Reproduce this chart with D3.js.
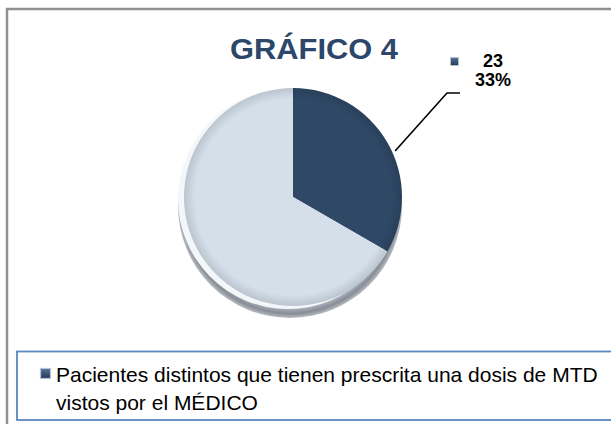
<!DOCTYPE html>
<html>
<head>
<meta charset="utf-8">
<script src="https://cdn.jsdelivr.net/npm/d3@7"></script>
<style>
  body { margin: 0; background: #fff; }
  text { font-family: Arial, "Liberation Sans", sans-serif; }
</style>
</head>
<body>
<script>
var categories = ["Pacientes distintos que tienen prescrita una dosis de MTD vistos por el MÉDICO", "Resto"],
    values = [23, 46],
    labels = ["23", "33%"],
    colors = ["#2f4866", "#d4dfea"];

var width = 611, height = 424,
    cx = 293, cy = 197, radius = 109;

var svg = d3.select("body").append("svg")
    .attr("width", width)
    .attr("height", height);

var defs = svg.append("defs");

// shadow under the disc
var sh = defs.append("radialGradient").attr("id", "shadow");
sh.append("stop").attr("offset", "0.88").attr("stop-color", "#c9ced6");
sh.append("stop").attr("offset", "0.96").attr("stop-color", "#878d96");
sh.append("stop").attr("offset", "1").attr("stop-color", "#b8bcc2");

colors.forEach(function(c, i) {
  var gr = defs.append("radialGradient").attr("id", "slice" + i)
      .attr("gradientUnits", "userSpaceOnUse")
      .attr("cx", 0).attr("cy", 0).attr("r", radius);
  gr.append("stop").attr("offset", "0.9").attr("stop-color", c);
  gr.append("stop").attr("offset", "1").attr("stop-color", d3.color(c).darker(0.35));
});

var mk = defs.append("linearGradient").attr("id", "marker")
    .attr("x1", 0).attr("y1", 0).attr("x2", 0).attr("y2", 1);
mk.append("stop").attr("offset", "0").attr("stop-color", "#5a7395");
mk.append("stop").attr("offset", "1").attr("stop-color", "#22395a");

// outer frame
svg.append("rect")
    .attr("x", 7).attr("y", 9)
    .attr("width", 700).attr("height", 500)
    .attr("fill", "none")
    .attr("stroke", "#8f8f8f")
    .attr("stroke-width", 2.5);

svg.append("text")
    .attr("x", 314).attr("y", 59)
    .attr("text-anchor", "middle")
    .attr("textLength", 168)
    .attr("lengthAdjust", "spacingAndGlyphs")
    .style("font-size", "29px")
    .style("font-weight", "bold")
    .attr("fill", "#2c4769")
    .text("GRÁFICO 4");

var g = svg.append("g").attr("transform", "translate(" + cx + "," + cy + ")");

g.append("circle")
    .attr("cx", -3).attr("cy", 9).attr("r", radius + 3)
    .attr("fill", "url(#shadow)");
g.append("circle")
    .attr("cx", -5).attr("cy", 2).attr("r", radius + 1)
    .attr("fill", "#f4f7fa");

var pie = d3.pie().sort(null).value(function(d) { return d; });
var arc = d3.arc().innerRadius(0).outerRadius(radius);
var arcs = pie(values);

g.selectAll("path.slice")
    .data(arcs)
    .enter().append("path")
    .attr("class", "slice")
    .attr("d", arc)
    .attr("fill", function(d, i) { return "url(#slice" + i + ")"; });

// leader line for first slice
var a0 = arcs[0], mid = (a0.startAngle + a0.endAngle) / 2 + 0.1;
var p0 = [Math.sin(mid) * (radius + 3), -Math.cos(mid) * (radius + 3)];
g.append("polyline")
    .attr("points", [p0, [154, -104], [167, -104]].map(function(p) { return p.join(","); }).join(" "))
    .attr("fill", "none")
    .attr("stroke", "#000")
    .attr("stroke-width", 1.6);

svg.append("rect")
    .attr("x", 450.5).attr("y", 57.5).attr("width", 8).attr("height", 8)
    .attr("fill", "url(#marker)")
    .attr("stroke", "#b8c4d3").attr("stroke-width", 1);

svg.selectAll("text.lab")
    .data(labels)
    .enter().append("text")
    .attr("class", "lab")
    .attr("x", 493)
    .attr("y", function(d, i) { return 67 + i * 19; })
    .attr("text-anchor", "middle")
    .style("font-size", "18px")
    .style("font-weight", "bold")
    .attr("fill", "#000")
    .text(function(d) { return d; });

// legend
svg.append("rect")
    .attr("x", 17).attr("y", 351.5)
    .attr("width", 700).attr("height", 68.5)
    .attr("fill", "#fff")
    .attr("stroke", "#5b87c0")
    .attr("stroke-width", 1.8);

svg.append("rect")
    .attr("x", 40.5).attr("y", 368.5).attr("width", 10).attr("height", 10)
    .attr("fill", "url(#marker)")
    .attr("stroke", "#b8c4d3").attr("stroke-width", 1.2);

var words = categories[0].split(" ");
var lines = [words.slice(0, 9).join(" "), words.slice(9).join(" ")];
svg.selectAll("text.leg")
    .data(lines)
    .enter().append("text")
    .attr("class", "leg")
    .attr("x", 56)
    .attr("y", function(d, i) { return 382 + i * 28; })
    .style("font-size", "21px")
    .attr("fill", "#000")
    .text(function(d) { return d; });
</script>
</body>
</html>
